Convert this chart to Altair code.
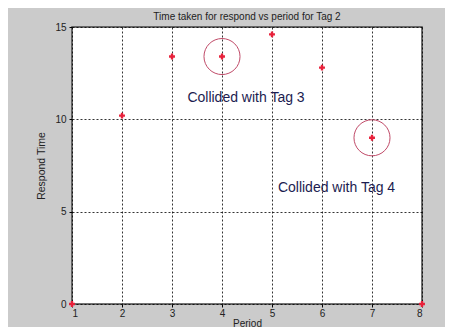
import altair as alt
import pandas as pd

periods = [1, 2, 3, 4, 5, 6, 7, 8]
respond_times = [0, 10.2, 13.4, 13.4, 14.6, 12.8, 9.0, 0]

circle_x = [4, 7]
circle_y = [13.4, 9.0]

note_text = ["Collided with Tag 3", "Collided with Tag 4"]
note_x = [4.48, 6.29]
note_y = [11.15, 6.28]

pts = pd.DataFrame({"Period": periods, "Respond Time": respond_times})
circ = pd.DataFrame({"Period": circle_x, "Respond Time": circle_y})
notes = pd.DataFrame({"Period": note_x, "Respond Time": note_y, "label": note_text})

FONT = "Liberation Sans"

x = alt.X("Period:Q", scale=alt.Scale(domain=[1, 8], nice=False),
          axis=alt.Axis(values=periods, format="d", title="Period",
                        grid=True, gridColor="black", gridDash=[2, 2], gridWidth=1,
                        gridOpacity=0.8,
                        tickSize=3, tickColor="black", labelFontSize=10,
                        labelColor="#222222", labelFont=FONT, titleFont=FONT,
                        titleFontSize=10, titleFontWeight="normal", titleColor="#222222",
                        titlePadding=0, domain=False, labelPadding=1))
y = alt.Y("Respond Time:Q", scale=alt.Scale(domain=[0, 15], nice=False),
          axis=alt.Axis(values=[0, 5, 10, 15], title="Respond Time",
                        grid=True, gridColor="black", gridDash=[2, 2], gridWidth=1,
                        gridOpacity=0.8,
                        tickSize=3, tickColor="black", labelFontSize=10,
                        labelColor="#222222", labelFont=FONT, titleFont=FONT,
                        titleFontSize=10.5, titleFontWeight="normal", titleColor="#222222",
                        titlePadding=8, domain=False, labelPadding=3))

base_pts = alt.Chart(pts).mark_point(shape="cross", filled=True, color="#e8203a",
                                     size=35, opacity=1).encode(x=x, y=y)

rings = alt.Chart(circ).mark_point(shape="circle", filled=False, color="#c04a68",
                                   size=1300, strokeWidth=1, opacity=1).encode(
    x="Period:Q", y="Respond Time:Q")

labels = alt.Chart(notes).mark_text(font=FONT, fontSize=14, color="#1c1c50",
                                    align="center", baseline="middle").encode(
    x="Period:Q", y="Respond Time:Q", text="label:N")

chart = (base_pts + rings + labels).properties(
    width=350, height=277,
    title=alt.TitleParams("Time taken for respond vs period for Tag 2",
                          font=FONT, fontSize=10, fontWeight="normal",
                          color="#222222", offset=0),
    autosize=alt.AutoSizeParams(type="none"),
    padding={"left": 64, "top": 19, "right": 23, "bottom": 23},
    background="#cbcbcb",
).configure_view(stroke="#444444", strokeWidth=1.5, fill="white")

chart.save("out.html", embed_options={"renderer": "svg", "actions": False})
